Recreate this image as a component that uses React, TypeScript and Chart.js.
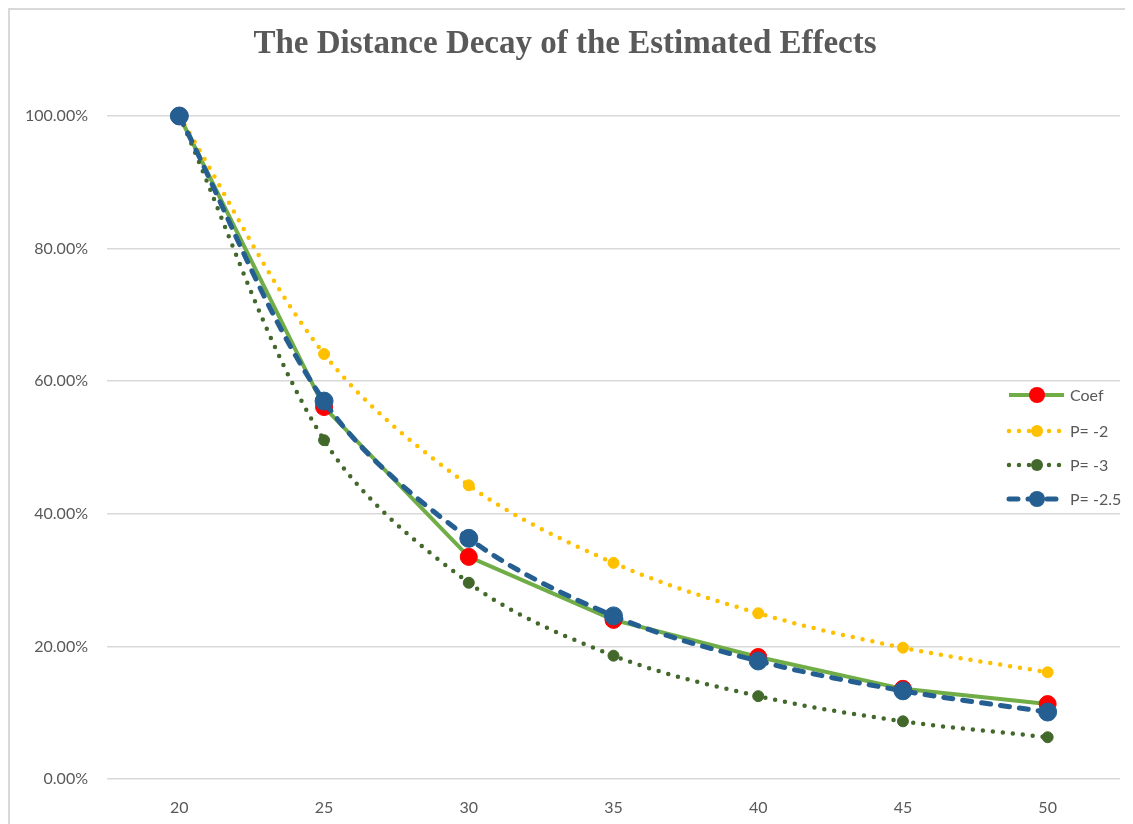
import React, { useEffect, useRef } from "react";
import { Chart, registerables } from "chart.js";

Chart.register(...registerables);

const distances = ["20", "25", "30", "35", "40", "45", "50"];
const coef = [100, 56.1, 33.5, 24.0, 18.4, 13.6, 11.3];
const pMinus2 = [100, 64.1, 44.3, 32.6, 25.0, 19.8, 16.1];
const pMinus3 = [100, 51.1, 29.6, 18.6, 12.5, 8.7, 6.3];
const pMinus25 = [100, 57.0, 36.3, 24.6, 17.8, 13.3, 10.1];
const seriesNames = ["Coef", "P= -2", "P= -3", "P= -2.5"];

const TEXT = "#595959";
const GRID = "#d9d9d9";
const TICK_FONT = "Lato";

const legendPlugin = {
  id: "excelLegend",
  afterDraw(chart: any) {
    const ctx = chart.ctx;
    const x0 = 999, x1 = 1054, cx = 1027, tx = 1060;
    const rows = [385, 421, 455, 489];
    const radii = [8, 6, 6, 8];
    chart.data.datasets.forEach((ds: any, i: number) => {
      const y = rows[i];
      ctx.save();
      ctx.strokeStyle = ds.borderColor;
      ctx.lineWidth = ds.borderWidth;
      ctx.lineCap = ds.borderCapStyle || "butt";
      ctx.setLineDash(ds.borderDash || []);
      ctx.beginPath();
      ctx.moveTo(x0, y);
      ctx.lineTo(x1, y);
      ctx.stroke();
      ctx.setLineDash([]);
      ctx.fillStyle = ds.pointBackgroundColor;
      ctx.beginPath();
      ctx.arc(cx, y, radii[i], 0, Math.PI * 2);
      ctx.fill();
      ctx.fillStyle = TEXT;
      ctx.font = `16px ${TICK_FONT}`;
      ctx.textBaseline = "middle";
      ctx.textAlign = "left";
      ctx.fillText(ds.label, tx, y + 1);
      ctx.restore();
    });
  },
};

export default function App() {
  const ref = useRef<HTMLCanvasElement | null>(null);

  useEffect(() => {
    if (!ref.current) return;
    const chart = new Chart(ref.current, {
      type: "line",
      data: {
        labels: distances,
        datasets: [
          {
            label: seriesNames[0],
            data: coef,
            borderColor: "#70AD47",
            borderWidth: 4,
            tension: 0,
            pointRadius: 8.5,
            pointBackgroundColor: "#FF0000",
            pointBorderColor: "#FF0000",
            pointBorderWidth: 1,
            order: 4,
            clip: false,
          },
          {
            label: seriesNames[1],
            data: pMinus2,
            borderColor: "#FFC000",
            borderWidth: 4.5,
            borderDash: [0, 10],
            borderCapStyle: "round",
            tension: 0.33,
            pointRadius: 5.5,
            pointBackgroundColor: "#FFC000",
            pointBorderColor: "#FFC000",
            pointBorderWidth: 1,
            order: 3,
            clip: false,
          },
          {
            label: seriesNames[2],
            data: pMinus3,
            borderColor: "#43682B",
            borderWidth: 4.5,
            borderDash: [0, 10],
            borderCapStyle: "round",
            tension: 0.33,
            pointRadius: 5.5,
            pointBackgroundColor: "#43682B",
            pointBorderColor: "#43682B",
            pointBorderWidth: 1,
            order: 2,
            clip: false,
          },
          {
            label: seriesNames[3],
            data: pMinus25,
            borderColor: "#255E91",
            borderWidth: 5,
            borderDash: [9, 10],
            borderCapStyle: "round",
            tension: 0.33,
            pointRadius: 9,
            pointBackgroundColor: "#255E91",
            pointBorderColor: "#255E91",
            pointBorderWidth: 1,
            order: 1,
            clip: false,
          },
        ] as any,
      },
      options: {
        animation: false,
        responsive: false,
        maintainAspectRatio: false,
        layout: { padding: { left: 0, right: 13, top: 0, bottom: 0 } },
        plugins: {
          legend: { display: false },
          tooltip: { enabled: false },
          title: {
            display: true,
            text: "The Distance Decay of the Estimated Effects",
            color: TEXT,
            font: { family: "Liberation Serif", size: 33, weight: "bold", lineHeight: 1.2 },
            padding: { top: 14.2, bottom: 52.2 },
          },
        },
        scales: {
          x: {
            type: "category",
            offset: true,
            grid: { display: false },
            border: { display: false },
            ticks: { color: TEXT, font: { family: TICK_FONT, size: 16 }, padding: 11 },
            afterFit(scale: any) {
              scale.height = 45;
            },
          },
          y: {
            min: 0,
            max: 100,
            border: { display: false },
            grid: { color: GRID, lineWidth: 1.5, drawTicks: false },
            ticks: {
              stepSize: 20,
              color: TEXT,
              font: { family: TICK_FONT, size: 16 },
              padding: 19,
              callback: (v: any) => Number(v).toFixed(2) + "%",
            },
            afterFit(scale: any) {
              scale.width = 97;
            },
          },
        },
      } as any,
      plugins: [legendPlugin],
    });
    return () => chart.destroy();
  }, []);

  return (
    <div
      style={{
        width: 1125,
        height: 816,
        boxSizing: "border-box",
        borderTop: `2px solid ${GRID}`,
        borderLeft: `2px solid ${GRID}`,
        background: "#fff",
      }}
    >
      <canvas ref={ref} width={1123} height={814} style={{ display: "block", width: 1123, height: 814 }} />
    </div>
  );
}
